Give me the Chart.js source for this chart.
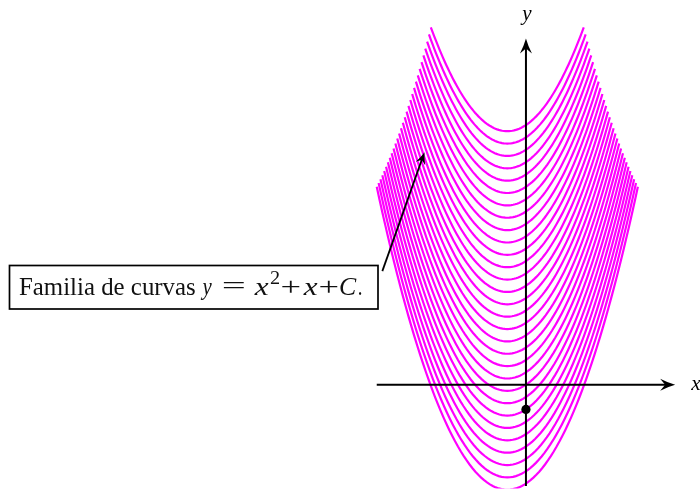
<!DOCTYPE html>
<html>
<head>
<meta charset="utf-8">
<script src="https://cdn.jsdelivr.net/npm/chart.js@4"></script>
<style>
html,body{margin:0;padding:0;background:#ffffff;}
#wrap{width:700px;height:493px;position:relative;}
</style>
</head>
<body>
<div id="wrap"><canvas id="c" width="700" height="493"></canvas></div>
<script>
// ---- data ----
// constants C of the family y = x^2 + x + C (one curve per value)
const constantsC = [10.5, 10, 9.5, 9, 8.5, 8, 7.5, 7, 6.5, 6, 5.5, 5, 4.5, 4, 3.5, 3, 2.5, 2, 1.5, 1, 0.5, 0, -0.5, -1, -1.5, -2, -2.5, -3, -3.5, -4];
// x-domain of each curve (left and right ends)
const domainLeft = [-2.55, -2.6, -2.65, -2.7, -2.75, -2.8, -2.85, -2.9, -2.95, -3, -3.05, -3.1, -3.15, -3.2, -3.25, -3.3, -3.35, -3.4, -3.45, -3.5, -3.55, -3.6, -3.65, -3.7, -3.75, -3.8, -3.85, -3.9, -3.95, -4];
const domainRight = [1.55, 1.6, 1.65, 1.7, 1.75, 1.8, 1.85, 1.9, 1.95, 2, 2.05, 2.1, 2.15, 2.2, 2.25, 2.3, 2.35, 2.4, 2.45, 2.5, 2.55, 2.6, 2.65, 2.7, 2.75, 2.8, 2.85, 2.9, 2.95, 3];
// the marked point
const markedX = [0];
const markedY = [-1];
// axes extent (data units) and their labels
const xAxisExtent = [-4, 4];
const yAxisExtent = [-4.1, 14];
const axisLabels = ['x', 'y'];
// annotation
const annotationWords = 'Familia de curvas';
const annotationMath = ['y', '=', 'x', '2', '+', 'x', '+', 'C', '.'];
const annotationArrowFrom = [-3.85, 4.59];
const annotationArrowTo = [-2.72, 9.4];

// the family's own equation (shown in the annotation)
function family(x, c) { return x * x + x + c; }

const SAMPLES = 90;
const datasets = [];
datasets.push({
  label: 'punto',
  data: markedX.map((x, i) => ({ x: x, y: markedY[i] })),
  showLine: false,
  pointRadius: 4.6,
  pointBackgroundColor: '#000000',
  pointBorderWidth: 0,
  order: 0
});
constantsC.forEach((c, i) => {
  const a = domainLeft[i], b = domainRight[i];
  const pts = [];
  for (let s = 0; s <= SAMPLES; s++) {
    const x = a + (b - a) * s / SAMPLES;
    pts.push({ x: x, y: family(x, c) });
  }
  datasets.push({
    label: 'C = ' + c,
    data: pts,
    showLine: true,
    pointRadius: 0,
    borderColor: '#ff00ff',
    borderWidth: 2.2,
    fill: false,
    tension: 0,
    order: 1
  });
});

function arrowHead(ctx, x, y, angle, L, W, notch) {
  ctx.save();
  ctx.translate(x, y);
  ctx.rotate(angle);
  ctx.beginPath();
  ctx.moveTo(0, 0);
  ctx.quadraticCurveTo(-L * 0.5, W * 0.35, -L, W);
  ctx.lineTo(-notch, 0);
  ctx.lineTo(-L, -W);
  ctx.quadraticCurveTo(-L * 0.5, -W * 0.35, 0, 0);
  ctx.closePath();
  ctx.fill();
  ctx.restore();
}

function fitText(ctx, str, font, x0, x1, baseline) {
  ctx.save();
  ctx.font = font;
  ctx.textAlign = 'left';
  ctx.textBaseline = 'alphabetic';
  const m = ctx.measureText(str);
  const inkL = -m.actualBoundingBoxLeft;
  const inkR = m.actualBoundingBoxRight;
  const s = (x1 - x0) / Math.max(1, inkR - inkL);
  ctx.translate(x0, baseline);
  ctx.scale(s, 1);
  ctx.fillText(str, -inkL, 0);
  ctx.restore();
}

const overlay = {
  id: 'overlay',
  afterDatasetsDraw(chart) {
    const ctx = chart.ctx;
    const xs = chart.scales.x, ys = chart.scales.y;
    const px = v => xs.getPixelForValue(v);
    const py = v => ys.getPixelForValue(v);
    ctx.save();
    ctx.strokeStyle = '#000';
    ctx.fillStyle = '#000';
    ctx.lineWidth = 2;
    ctx.lineCap = 'butt';
    // x axis
    const ox = px(0), oy = py(0);
    const xa = px(xAxisExtent[0]), xb = px(xAxisExtent[1]);
    ctx.beginPath(); ctx.moveTo(xa, oy); ctx.lineTo(xb - 8, oy); ctx.stroke();
    arrowHead(ctx, xb, oy, 0, 15, 6, 10);
    // y axis
    const ya = py(yAxisExtent[0]), yb = py(yAxisExtent[1]);
    ctx.beginPath(); ctx.moveTo(ox, ya); ctx.lineTo(ox, yb + 8); ctx.stroke();
    arrowHead(ctx, ox, yb, -Math.PI / 2, 15, 6, 10);
    // axis labels
    ctx.font = 'italic 21px "Liberation Serif", serif';
    ctx.textAlign = 'left';
    ctx.textBaseline = 'alphabetic';
    ctx.fillText(axisLabels[0], xb + 16, oy + 5);
    ctx.textAlign = 'center';
    ctx.fillText(axisLabels[1], ox + 1, yb - 18);

    // annotation box
    ctx.lineWidth = 1.7;
    ctx.strokeRect(9.5, 265.5, 368.5, 43.5);
    ctx.fillStyle = '#111';
    const base = 294.5;
    const roman = '25px "Liberation Serif", serif';
    const ital = 'italic 25px "Liberation Serif", serif';
    fitText(ctx, annotationWords, roman, 19, 195, base);
    const spans = [
      [ital, 200, 212.5, base],
      [roman, 223.5, 244, base - 0.5],
      [ital, 253.5, 268.5, base],
      ['18px "Liberation Serif", serif', 270, 279, base - 11],
      [roman, 282, 299.5, base],
      [ital, 302.5, 317.5, base],
      [roman, 320, 337.5, base],
      [ital, 340, 356.5, base],
      [roman, 358.5, 361.5, base]
    ];
    annotationMath.forEach((t, i) => {
      const sp = spans[i];
      fitText(ctx, t, sp[0], sp[1], sp[2], sp[3]);
    });

    // annotation arrow
    ctx.fillStyle = '#000';
    const ax0 = px(annotationArrowFrom[0]), ay0 = py(annotationArrowFrom[1]);
    const ax1 = px(annotationArrowTo[0]), ay1 = py(annotationArrowTo[1]);
    const ang = Math.atan2(ay1 - ay0, ax1 - ax0);
    ctx.lineWidth = 1.8;
    ctx.beginPath();
    ctx.moveTo(ax0, ay0);
    ctx.lineTo(ax1 - 7 * Math.cos(ang), ay1 - 7 * Math.sin(ang));
    ctx.stroke();
    arrowHead(ctx, ax1, ay1, ang, 12, 5, 8);
    ctx.restore();
  }
};

new Chart(document.getElementById('c').getContext('2d'), {
  type: 'scatter',
  data: { datasets: datasets },
  options: {
    responsive: false,
    animation: false,
    events: [],
    layout: { padding: 0 },
    plugins: { legend: { display: false }, tooltip: { enabled: false } },
    scales: {
      x: { type: 'linear', display: false, min: -13.976, max: 4.5423 },
      y: { type: 'linear', display: false, min: -4.1944, max: 15.369 }
    }
  },
  plugins: [overlay]
});
</script>
</body>
</html>
